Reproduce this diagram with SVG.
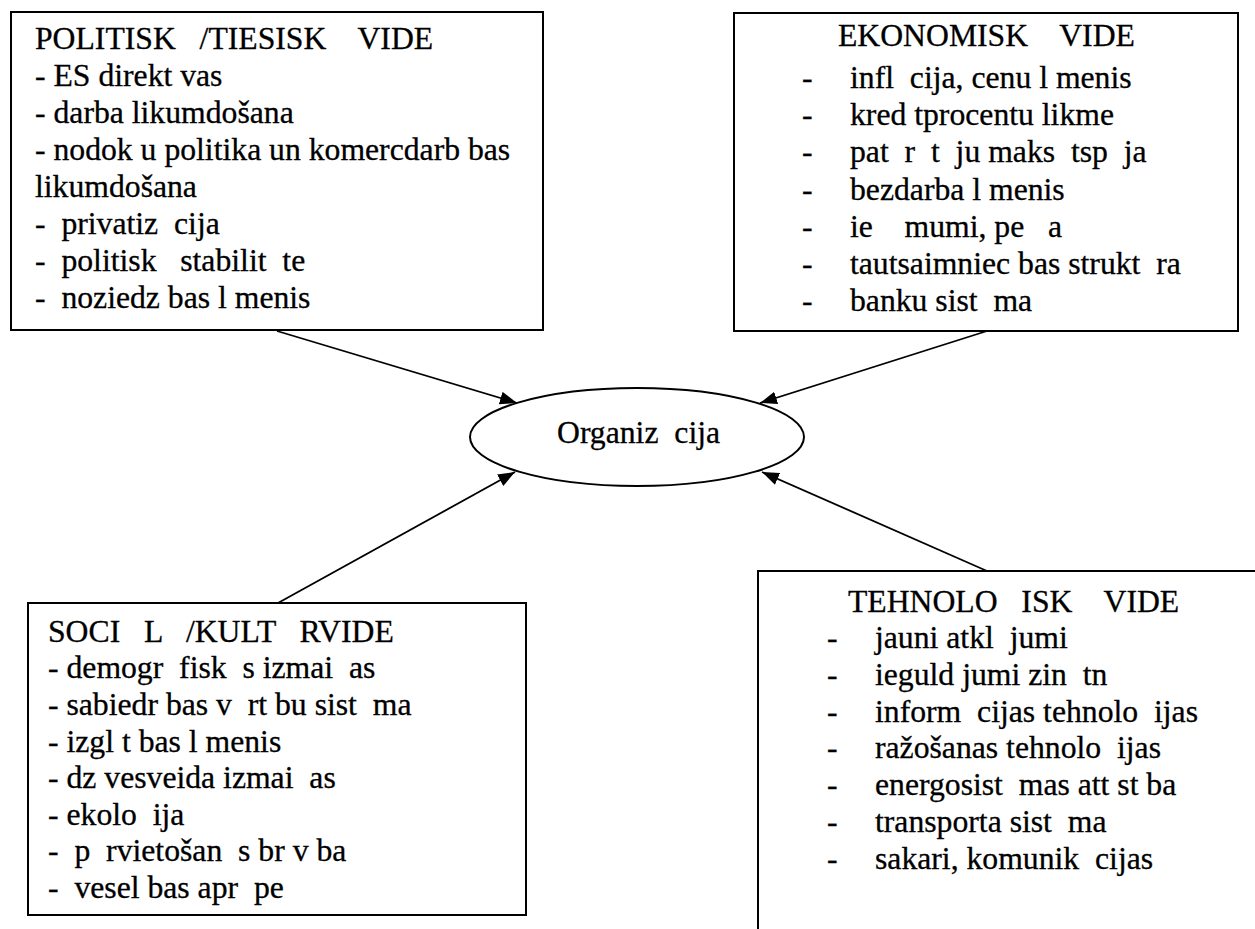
<svg xmlns="http://www.w3.org/2000/svg" width="1255" height="929" viewBox="0 0 1255 929">
<style>
  .box { fill: #ffffff; stroke: #000000; stroke-width: 2; }
  .t { font-family: "Liberation Serif", "Times New Roman", serif; font-size: 31.7px; fill: #000000; stroke: #000000; stroke-width: 0.3; white-space: pre; }
  .conn { stroke: #000000; stroke-width: 1.8; fill: none; }
</style>
<defs>
  <marker id="arrow" markerUnits="userSpaceOnUse" markerWidth="18" markerHeight="14" refX="17" refY="6.5" orient="auto">
    <path d="M0,0 L17,6.5 L0,13 Z" fill="#000000"/>
  </marker>
</defs>
<rect width="1255" height="929" fill="#ffffff"/>

<g id="connectors">
  <line class="conn" x1="277" y1="331" x2="517" y2="403" marker-end="url(#arrow)"/>
  <line class="conn" x1="987" y1="331" x2="760" y2="403" marker-end="url(#arrow)"/>
  <line class="conn" x1="278" y1="603" x2="515" y2="472" marker-end="url(#arrow)"/>
  <line class="conn" x1="987" y1="571" x2="762" y2="472" marker-end="url(#arrow)"/>
</g>

<g id="node-politisk">
  <rect class="box" x="11" y="12" width="532" height="318"/>
  <text class="t" x="35" y="49">POLITISK   /TIESISK    VIDE</text>
  <text class="t" x="35" y="86">- ES direkt vas</text>
  <text class="t" x="35" y="123">- darba likumdošana</text>
  <text class="t" x="35" y="160">- nodok u politika un komercdarb bas</text>
  <text class="t" x="35" y="197">likumdošana</text>
  <text class="t" x="35" y="234">-  privatiz  cija</text>
  <text class="t" x="35" y="271">-  politisk   stabilit  te</text>
  <text class="t" x="35" y="308">-  noziedz bas l menis</text>
</g>

<g id="node-ekonomisk">
  <rect class="box" x="734" y="13" width="504" height="318"/>
  <text class="t" x="838" y="46">EKONOMISK    VIDE</text>
  <text class="t" x="802" y="88">-</text><text class="t" x="850" y="88">infl  cija, cenu l menis</text>
  <text class="t" x="802" y="125">-</text><text class="t" x="850" y="125">kred tprocentu likme</text>
  <text class="t" x="802" y="162">-</text><text class="t" x="850" y="162">pat  r  t  ju maks  tsp  ja</text>
  <text class="t" x="802" y="200">-</text><text class="t" x="850" y="200">bezdarba l menis</text>
  <text class="t" x="802" y="237">-</text><text class="t" x="850" y="237">ie    mumi, pe   a</text>
  <text class="t" x="802" y="274">-</text><text class="t" x="850" y="274">tautsaimniec bas strukt  ra</text>
  <text class="t" x="802" y="311">-</text><text class="t" x="850" y="311">banku sist  ma</text>
</g>

<g id="node-organizacija">
  <ellipse cx="637" cy="437" rx="167" ry="49" fill="#ffffff" stroke="#000000" stroke-width="2"/>
  <text class="t" x="557" y="443">Organiz  cija</text>
</g>

<g id="node-socialkult">
  <rect class="box" x="28" y="603" width="498" height="312"/>
  <text class="t" x="48" y="641.7">SOCI   L   /KULT   RVIDE</text>
  <text class="t" x="48" y="678.3">- demogr  fisk  s izmai  as</text>
  <text class="t" x="48" y="714.9">- sabiedr bas v  rt bu sist  ma</text>
  <text class="t" x="48" y="751.5">- izgl t bas l menis</text>
  <text class="t" x="48" y="788.1">- dz vesveida izmai  as</text>
  <text class="t" x="48" y="824.7">- ekolo  ija</text>
  <text class="t" x="48" y="861.3">-  p  rvietošan  s br v ba</text>
  <text class="t" x="48" y="897.9">-  vesel bas apr  pe</text>
</g>

<g id="node-tehnologisk">
  <rect class="box" x="758" y="571" width="520" height="400"/>
  <text class="t" x="848" y="612">TEHNOLO   ISK    VIDE</text>
  <text class="t" x="827" y="648">-</text><text class="t" x="875" y="648">jauni atkl  jumi</text>
  <text class="t" x="827" y="684.8">-</text><text class="t" x="875" y="684.8">ieguld jumi zin  tn</text>
  <text class="t" x="827" y="721.6">-</text><text class="t" x="875" y="721.6">inform  cijas tehnolo  ijas</text>
  <text class="t" x="827" y="758.4">-</text><text class="t" x="875" y="758.4">ražošanas tehnolo  ijas</text>
  <text class="t" x="827" y="795.2">-</text><text class="t" x="875" y="795.2">energosist  mas att st ba</text>
  <text class="t" x="827" y="832">-</text><text class="t" x="875" y="832">transporta sist  ma</text>
  <text class="t" x="827" y="868.8">-</text><text class="t" x="875" y="868.8">sakari, komunik  cijas</text>
</g>
</svg>
